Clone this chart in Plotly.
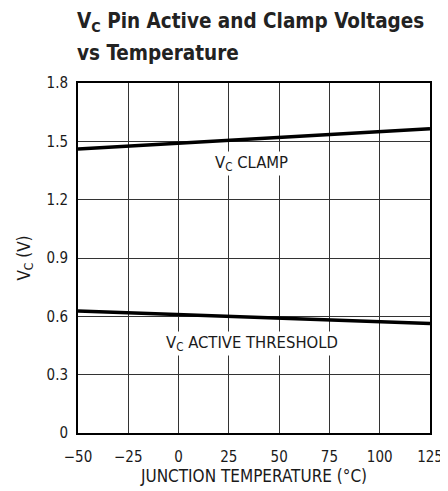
import plotly.graph_objects as go

# data
temp_c = [-50, -25, 0, 25, 50, 75, 100, 125]
vc_clamp = [1.460, 1.475, 1.490, 1.505, 1.520, 1.535, 1.550, 1.565]
vc_threshold = [0.628, 0.619, 0.609, 0.599, 0.590, 0.581, 0.572, 0.563]

x_ticks = [-50, -25, 0, 25, 50, 75, 100, 125]
x_tick_text = ["\u221250", "\u221225", "0", "25", "50", "75", "100", "125"]
y_ticks = [0, 0.3, 0.6, 0.9, 1.2, 1.5, 1.8]
y_tick_text = ["0", "0.3", "0.6", "0.9", "1.2", "1.5", "1.8"]

FONT = "DejaVu Sans Condensed, Liberation Sans Narrow, Arial, sans-serif"
TXT = "#1a1a1a"

# the page body adds an 8px margin, so the figure is drawn 8px smaller
W, H = 440, 483
ML, MT, MR, MB = 70, 75, 18, 58
PLOT_H = H - MT - MB

fig = go.Figure()
fig.add_trace(go.Scatter(x=temp_c, y=vc_clamp, mode="lines",
                         line=dict(color="black", width=3.5), showlegend=False))
fig.add_trace(go.Scatter(x=temp_c, y=vc_threshold, mode="lines",
                         line=dict(color="black", width=3.5), showlegend=False))

# curve labels, white box so grid lines break around the text
fig.add_annotation(x=36.5, y=1.385, text="V<sub>C</sub> CLAMP", showarrow=False,
                   font=dict(family=FONT, size=16.5, color=TXT),
                   bgcolor="white", borderpad=1)
fig.add_annotation(x=36.5, y=0.462, text="V<sub>C</sub> ACTIVE THRESHOLD", showarrow=False,
                   font=dict(family=FONT, size=16.5, color=TXT),
                   bgcolor="white", borderpad=1)

# two-line title placed by hand (pixel offsets above the plot top)
fig.add_annotation(xref="paper", yref="paper", x=-0.008, y=1 + (83 - 22) / PLOT_H,
                   xanchor="left", yanchor="middle", showarrow=False,
                   text="<b>V<sub>C</sub> Pin Active and Clamp Voltages</b>",
                   font=dict(family=FONT, size=20.5, color="#222"))
fig.add_annotation(xref="paper", yref="paper", x=-0.008, y=1 + (83 - 53) / PLOT_H,
                   xanchor="left", yanchor="middle", showarrow=False,
                   text="<b>vs Temperature</b>",
                   font=dict(family=FONT, size=20.5, color="#222"))

fig.update_layout(
    width=W, height=H,
    margin=dict(l=ML, r=MR, t=MT, b=MB),
    paper_bgcolor="white", plot_bgcolor="white",
    font=dict(family=FONT, size=15, color=TXT),
    xaxis=dict(range=[-50, 125], tickvals=x_ticks, ticktext=x_tick_text,
               showgrid=True, gridcolor="#333", gridwidth=1,
               showline=True, linecolor="black", linewidth=2, mirror=True,
               zeroline=False, ticks="outside", ticklen=9, tickcolor="white",
               automargin=False, tickfont=dict(size=15),
               title=dict(text="JUNCTION TEMPERATURE (\u00b0C)", standoff=3,
                          font=dict(family=FONT, size=17, color=TXT))),
    yaxis=dict(range=[0, 1.8], tickvals=y_ticks, ticktext=y_tick_text,
               showgrid=True, gridcolor="#333", gridwidth=1,
               showline=True, linecolor="black", linewidth=2, mirror=True,
               zeroline=False, ticks="outside", ticklen=5, tickcolor="white",
               automargin=False, tickfont=dict(size=15),
               title=dict(text="V<sub>C</sub> (V)", standoff=12,
                          font=dict(family=FONT, size=17, color=TXT))),
)

fig.write_html("out.html")
